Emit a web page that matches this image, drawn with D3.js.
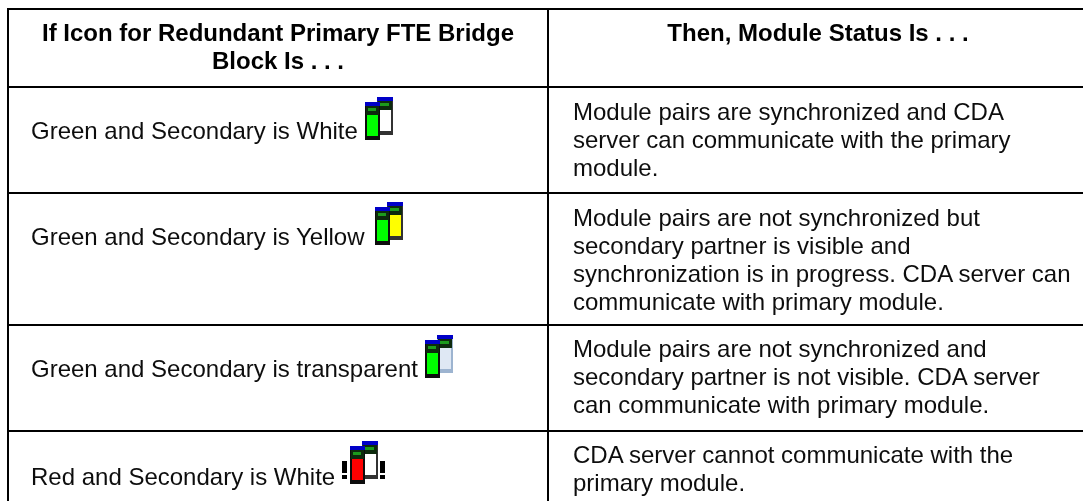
<!DOCTYPE html>
<html><head><meta charset="utf-8">
<script src="https://cdnjs.cloudflare.com/ajax/libs/d3/7.8.5/d3.min.js"></script>
<style>html,body{margin:0;padding:0;background:#fff}svg{display:block}
text{font-family:"Liberation Sans",Arial,sans-serif;fill:#111;font-size:24px}
.h{font-weight:bold;text-anchor:middle;fill:#000}</style></head><body>
<svg id="c" width="1083" height="501"></svg>
<script>
const headerLeft = ["If Icon for Redundant Primary FTE Bridge", "Block Is . . ."];
const headerRight = ["Then, Module Status Is . . ."];
const conditions = ["Green and Secondary is White","Green and Secondary is Yellow","Green and Secondary is transparent","Red and Secondary is White"];
const statuses = [
 ["Module pairs are synchronized and CDA","server can communicate with the primary","module."],
 ["Module pairs are not synchronized but","secondary partner is visible and","synchronization is in progress. CDA server can","communicate with primary module."],
 ["Module pairs are not synchronized and","secondary partner is not visible. CDA server","can communicate with primary module."],
 ["CDA server cannot communicate with the","primary module."]
];
const primaryFill = ["#00ff00","#00ff00","#00ff00","#ff0000"];
const secondaryFill = ["#ffffff","#ffff00","#dfe8f4","#ffffff"];
const alerts = [false,false,false,true];

const rowEdges = [87,193,325,431];
const iconX = [365,375,425,350];
const iconY = [102,207,340,446];
const condY = [139,245,377,485];
const statusY = [120,226,357,463];
const svg = d3.select("#c");
const defs = svg.append("defs");
defs.append("filter").attr("id","b").append("feGaussianBlur").attr("stdDeviation",0.6);
defs.append("filter").attr("id","t").append("feGaussianBlur").attr("stdDeviation",0.3);

const line = (x1,y1,x2,y2)=>svg.append("line").attr("x1",x1).attr("y1",y1).attr("x2",x2).attr("y2",y2).attr("stroke","#000").attr("stroke-width",2);
line(8,9,1083,9); line(8,8,8,501); line(548,8,548,501);
rowEdges.forEach(y=>line(8,y,1083,y));

const txt = svg.append("g").attr("filter","url(#t)");
txt.selectAll(".l").data(headerLeft).join("text").attr("class","h l").attr("x",278).attr("y",(d,i)=>41+i*28).text(d=>d);
txt.selectAll(".r").data(headerRight).join("text").attr("class","h r").attr("x",818).attr("y",41).text(d=>d);
txt.selectAll(".cond").data(conditions).join("text").attr("class","cond").attr("x",31).attr("y",(d,i)=>condY[i]).text(d=>d);
const st = txt.selectAll(".st").data(statuses).join("g").attr("transform",(d,i)=>`translate(573,${statusY[i]})`);
st.selectAll("text").data(d=>d).join("text").attr("y",(d,i)=>i*28).text(d=>d);

const icons = svg.selectAll(".icon").data(conditions).join("g").attr("class","icon")
  .attr("transform",(d,i)=>`translate(${iconX[i]},${iconY[i]})`).attr("filter","url(#b)");
function module(g,x,y,w,h,fill,edge){
  g.append("rect").attr("x",x).attr("y",y).attr("width",w).attr("height",h).attr("fill",edge);
  g.append("rect").attr("x",x).attr("y",y).attr("width",w).attr("height",4).attr("fill","#0000c8");
  g.append("rect").attr("x",x+1).attr("y",y+4).attr("width",w-2).attr("height",9).attr("fill","#0a2a0a");
  g.append("rect").attr("x",x+3).attr("y",y+6).attr("width",w-7).attr("height",3).attr("fill","#1f9a1f");
  g.append("rect").attr("x",x+2).attr("y",y+13).attr("width",w-4).attr("height",h-17).attr("fill",fill);
}
icons.each(function(d,i){
  const g = d3.select(this);
  module(g,12,-5,16,38,secondaryFill[i],secondaryFill[i]==="#dfe8f4"?"#9db4d0":"#333");
  module(g,0,0,15,38,primaryFill[i],"#111");
  if(alerts[i]){
    [-8,30].forEach(x=>{
      g.append("rect").attr("x",x).attr("y",15).attr("width",5).attr("height",12).attr("fill","#000");
      g.append("rect").attr("x",x).attr("y",29).attr("width",5).attr("height",4).attr("fill","#000");
    });
  }
});
</script></body></html>
